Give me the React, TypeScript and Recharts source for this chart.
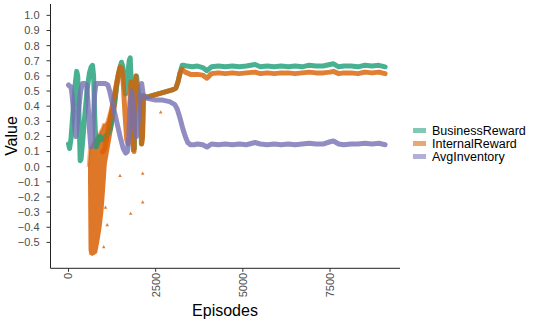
import React from 'react'
import {
    ComposedChart,
    Line,
    Area,
    Scatter,
    XAxis,
    YAxis,
} from 'recharts'

const FONT = '"Liberation Sans", Arial, Helvetica, sans-serif'

const GREEN = '#1b9e77'
const ORANGE = '#d95f02'
const PURPLE = '#7570b3'

// BusinessReward
const businessEpisodes = [
    0, 30, 70, 110, 160, 200, 235, 265, 300, 335, 360, 400, 460, 530, 600, 650, 690, 720, 750, 790,
    830, 900, 980, 1060, 1140, 1200, 1260, 1330, 1400, 1460, 1520, 1560, 1600, 1640, 1690, 1740,
    1770, 1800, 1830, 1860, 1890, 1920, 1950, 2000, 2060, 2090, 2120, 2150, 2250, 2400, 2550, 2700,
    2850, 3000, 3080, 3140, 3200, 3260, 3320, 3400, 3550, 3700, 3850, 3970, 4100, 4300, 4500, 4700,
    4900, 5100, 5350, 5500, 5700, 5900, 6100, 6300, 6500, 6700, 6900, 7100, 7300, 7500, 7600, 7750,
    7900, 8100, 8300, 8500, 8700, 8900, 9080,
]
const businessValues = [
    0.15, 0.12, 0.18, 0.3, 0.45, 0.56, 0.63, 0.6, 0.35, 0.04, 0.05, 0.15, 0.32, 0.5, 0.62, 0.66, 0.67,
    0.6, 0.35, 0.13, 0.15, 0.2, 0.18, 0.2, 0.22, 0.25, 0.33, 0.45, 0.56, 0.64, 0.69, 0.66, 0.55, 0.48,
    0.58, 0.7, 0.72, 0.55, 0.25, 0.11, 0.12, 0.55, 0.6, 0.5, 0.42, 0.15, 0.2, 0.47, 0.46, 0.47, 0.48,
    0.49, 0.5, 0.51, 0.52, 0.56, 0.62, 0.67, 0.67, 0.665, 0.66, 0.665, 0.655, 0.635, 0.66, 0.665,
    0.66, 0.665, 0.66, 0.665, 0.675, 0.66, 0.665, 0.66, 0.665, 0.66, 0.665, 0.66, 0.67, 0.665, 0.665,
    0.675, 0.68, 0.66, 0.665, 0.665, 0.66, 0.67, 0.665, 0.67, 0.66,
]

// InternalReward
const internalEpisodes = [
    980, 1040, 1100, 1180, 1260, 1340, 1420, 1480, 1530, 1570, 1620, 1670, 1710, 1750, 1790, 1820,
    1850, 1880, 1905, 1930, 1970, 2020, 2070, 2100, 2125, 2150, 2250, 2400, 2550, 2700, 2850, 3000,
    3080, 3140, 3200, 3250, 3350, 3500, 3700, 3850, 3970, 4100, 4300, 4500, 4700, 4900, 5100, 5350,
    5500, 5700, 5900, 6100, 6300, 6500, 6700, 6900, 7100, 7300, 7500, 7600, 7750, 7900, 8100, 8300,
    8500, 8700, 8900, 9080,
]
const internalValues = [
    0.1, 0.12, 0.2, 0.3, 0.4, 0.5, 0.6, 0.66, 0.65, 0.55, 0.35, 0.18, 0.15, 0.35, 0.56, 0.5, 0.2, 0.1,
    0.45, 0.6, 0.48, 0.44, 0.43, 0.15, 0.2, 0.46, 0.46, 0.47, 0.48, 0.49, 0.5, 0.51, 0.52, 0.56, 0.62,
    0.645, 0.625, 0.61, 0.61, 0.605, 0.585, 0.615, 0.62, 0.615, 0.62, 0.615, 0.62, 0.625, 0.615, 0.62,
    0.615, 0.62, 0.62, 0.615, 0.62, 0.625, 0.62, 0.62, 0.625, 0.63, 0.615, 0.62, 0.62, 0.615, 0.625,
    0.62, 0.625, 0.615,
]

// InternalReward spread while it was unstable (low / high of the point cloud)
const cloudEpisodes = [
    560, 575, 600, 680, 760, 820, 880, 950, 1000, 1050, 1100, 1200, 1300, 1400, 1460,
]
const cloudLow = [
    -0.1, -0.55, -0.58, -0.59, -0.58, -0.57, -0.5, -0.4, -0.3, -0.15, 0.02, 0.15, 0.28, 0.42, 0.56,
]
const cloudHigh = [
    0.0, 0.05, 0.12, 0.15, 0.18, 0.2, 0.22, 0.25, 0.28, 0.28, 0.3, 0.38, 0.5, 0.62, 0.66,
]

// scattered InternalReward points
const outlierEpisodes = [1010, 1060, 1110, 1477, 1784, 2128, 2128, 2644]
const outlierValues = [-0.53, -0.27, -0.385, -0.06, -0.31, -0.045, -0.235, 0.36]

// AvgInventory
const inventoryEpisodes = [
    0, 40, 70, 100, 140, 180, 210, 250, 300, 350, 400, 470, 520, 560, 600, 640, 670, 710, 750, 790,
    850, 950, 1050, 1130, 1180, 1250, 1330, 1410, 1490, 1570, 1640, 1690, 1730, 1770, 1810, 1850,
    1900, 1950, 2000, 2050, 2100, 2150, 2300, 2500, 2700, 2900, 3050, 3120, 3200, 3280, 3350, 3420,
    3500, 3600, 3700, 3850, 3970, 4100, 4300, 4500, 4700, 4900, 5100, 5350, 5500, 5700, 5900, 6100,
    6300, 6500, 6700, 6900, 7100, 7300, 7500, 7600, 7750, 7900, 8100, 8300, 8500, 8700, 8900, 9080,
]
const inventoryValues = [
    0.54, 0.53, 0.53, 0.48, 0.38, 0.26, 0.2, 0.28, 0.4, 0.5, 0.55, 0.55, 0.54, 0.42, 0.25, 0.13, 0.14,
    0.3, 0.48, 0.55, 0.55, 0.55, 0.55, 0.54, 0.5, 0.43, 0.35, 0.27, 0.19, 0.12, 0.09, 0.1, 0.2, 0.42,
    0.5, 0.4, 0.25, 0.2, 0.3, 0.45, 0.55, 0.46, 0.45, 0.44, 0.44, 0.43, 0.41, 0.38, 0.32, 0.25, 0.2,
    0.16, 0.145, 0.145, 0.15, 0.145, 0.13, 0.15, 0.145, 0.15, 0.145, 0.15, 0.145, 0.16, 0.15, 0.145,
    0.15, 0.145, 0.15, 0.145, 0.15, 0.155, 0.15, 0.15, 0.165, 0.17, 0.15, 0.145, 0.15, 0.15, 0.155,
    0.15, 0.155, 0.145,
]

const xTicks = [0, 2500, 5000, 7500]
const yTicks = [-0.5, -0.4, -0.3, -0.2, -0.1, 0, 0.1, 0.2, 0.3, 0.4, 0.5, 0.6, 0.7, 0.8, 0.9, 1.0]

const legendItems = [
    { name: 'BusinessReward', color: GREEN },
    { name: 'InternalReward', color: ORANGE },
    { name: 'AvgInventory', color: PURPLE },
]

const businessData = businessEpisodes.map((ep, i) => ({ ep, v: businessValues[i] }))
const internalData = internalEpisodes.map((ep, i) => ({ ep, v: internalValues[i] }))
const inventoryData = inventoryEpisodes.map((ep, i) => ({ ep, v: inventoryValues[i] }))
// stacked: an invisible base up to the low edge, then the spread on top of it
const cloudData = cloudEpisodes.map((ep, i) => ({
    ep,
    lo: cloudLow[i],
    spread: cloudHigh[i] - cloudLow[i],
}))
const outlierData = outlierEpisodes.map((ep, i) => ({ ep, v: outlierValues[i] }))

const formatY = (v: number) => {
    const s = Math.abs(v).toFixed(1)
    return v < -1e-9 ? '\u2212' + s : s
}

const XTick = ({ x, y, payload }: any) => (
    <g transform={`translate(${x},${y})`}>
        <text
            transform="rotate(-90)"
            textAnchor="end"
            dy="0.36em"
            fill="#4d4d4d"
            fontSize={11}
            fontFamily={FONT}
        >
            {payload.value}
        </text>
    </g>
)

const Triangle = ({ cx, cy }: any) => (
    <path
        d={`M${cx},${cy - 2} L${cx + 1.8},${cy + 1.2} L${cx - 1.8},${cy + 1.2} Z`}
        fill={ORANGE}
        fillOpacity={0.8}
    />
)

const lineProps = {
    type: 'linear' as const,
    dataKey: 'v',
    strokeWidth: 5,
    strokeOpacity: 0.8,
    strokeLinejoin: 'round' as const,
    strokeLinecap: 'round' as const,
    dot: false,
    activeDot: false,
    isAnimationActive: false,
}

export default function App() {
    return (
        <div style={{ position: 'absolute', left: 0, top: 0, width: 540, height: 323, background: '#fff' }}>
            <ComposedChart
                width={540}
                height={323}
                margin={{ top: 4, right: 140, bottom: 0, left: 0 }}
            >
                <XAxis
                    type="number"
                    dataKey="ep"
                    domain={[-516, 9507]}
                    allowDataOverflow
                    ticks={xTicks}
                    height={54.7}
                    tick={<XTick />}
                    tickSize={3.5}
                    tickMargin={1}
                    axisLine={{ stroke: '#222', strokeWidth: 1 }}
                    tickLine={{ stroke: '#333' }}
                    interval={0}
                />
                <YAxis
                    type="number"
                    domain={[-0.671, 1.075]}
                    allowDataOverflow
                    ticks={yTicks}
                    width={50.5}
                    tickFormatter={formatY}
                    tickSize={4}
                    tickMargin={7}
                    tick={{ fill: '#4d4d4d', fontSize: 11, fontFamily: FONT }}
                    axisLine={{ stroke: '#222', strokeWidth: 1 }}
                    tickLine={{ stroke: '#333' }}
                    interval={0}
                />
                <Line {...lineProps} data={businessData} stroke={GREEN} name="BusinessReward" />
                <Area
                    type="linear"
                    data={cloudData}
                    dataKey="lo"
                    stackId="cloud"
                    fill="none"
                    stroke="none"
                    isAnimationActive={false}
                    activeDot={false}
                />
                <Area
                    type="linear"
                    data={cloudData}
                    dataKey="spread"
                    stackId="cloud"
                    fill={ORANGE}
                    fillOpacity={0.85}
                    stroke={ORANGE}
                    strokeOpacity={0.5}
                    strokeWidth={2.5}
                    isAnimationActive={false}
                    activeDot={false}
                />
                <Scatter data={outlierData} dataKey="v" shape={<Triangle />} isAnimationActive={false} />
                <Line {...lineProps} data={internalData} stroke={ORANGE} name="InternalReward" />
                <Line {...lineProps} data={inventoryData} stroke={PURPLE} name="AvgInventory" />
            </ComposedChart>

            <div
                style={{
                    position: 'absolute',
                    left: 225,
                    top: 302,
                    transform: 'translateX(-50%)',
                    fontFamily: FONT,
                    fontSize: 16,
                    color: '#000',
                    whiteSpace: 'nowrap',
                    lineHeight: '18px',
                }}
            >
                Episodes
            </div>
            <div
                style={{
                    position: 'absolute',
                    left: 12,
                    top: 136,
                    transform: 'translate(-50%, -50%) rotate(-90deg)',
                    fontFamily: FONT,
                    fontSize: 16,
                    color: '#000',
                    whiteSpace: 'nowrap',
                    lineHeight: '18px',
                }}
            >
                Value
            </div>

            <div style={{ position: 'absolute', left: 413, top: 124, fontFamily: FONT }}>
                {legendItems.map((item) => (
                    <div
                        key={item.name}
                        style={{ display: 'flex', alignItems: 'center', height: 13 }}
                    >
                        <div
                            style={{
                                position: 'relative',
                                width: 13,
                                height: 5,
                                background: item.color,
                                opacity: 0.55,
                                marginRight: 6,
                            }}
                        >
                            <div
                                style={{
                                    position: 'absolute',
                                    left: 5,
                                    top: 1,
                                    width: 3,
                                    height: 3,
                                    background: item.color,
                                }}
                            />
                        </div>
                        <span style={{ fontSize: 12.5, color: '#000', lineHeight: '12px' }}>{item.name}</span>
                    </div>
                ))}
            </div>
        </div>
    )
}
